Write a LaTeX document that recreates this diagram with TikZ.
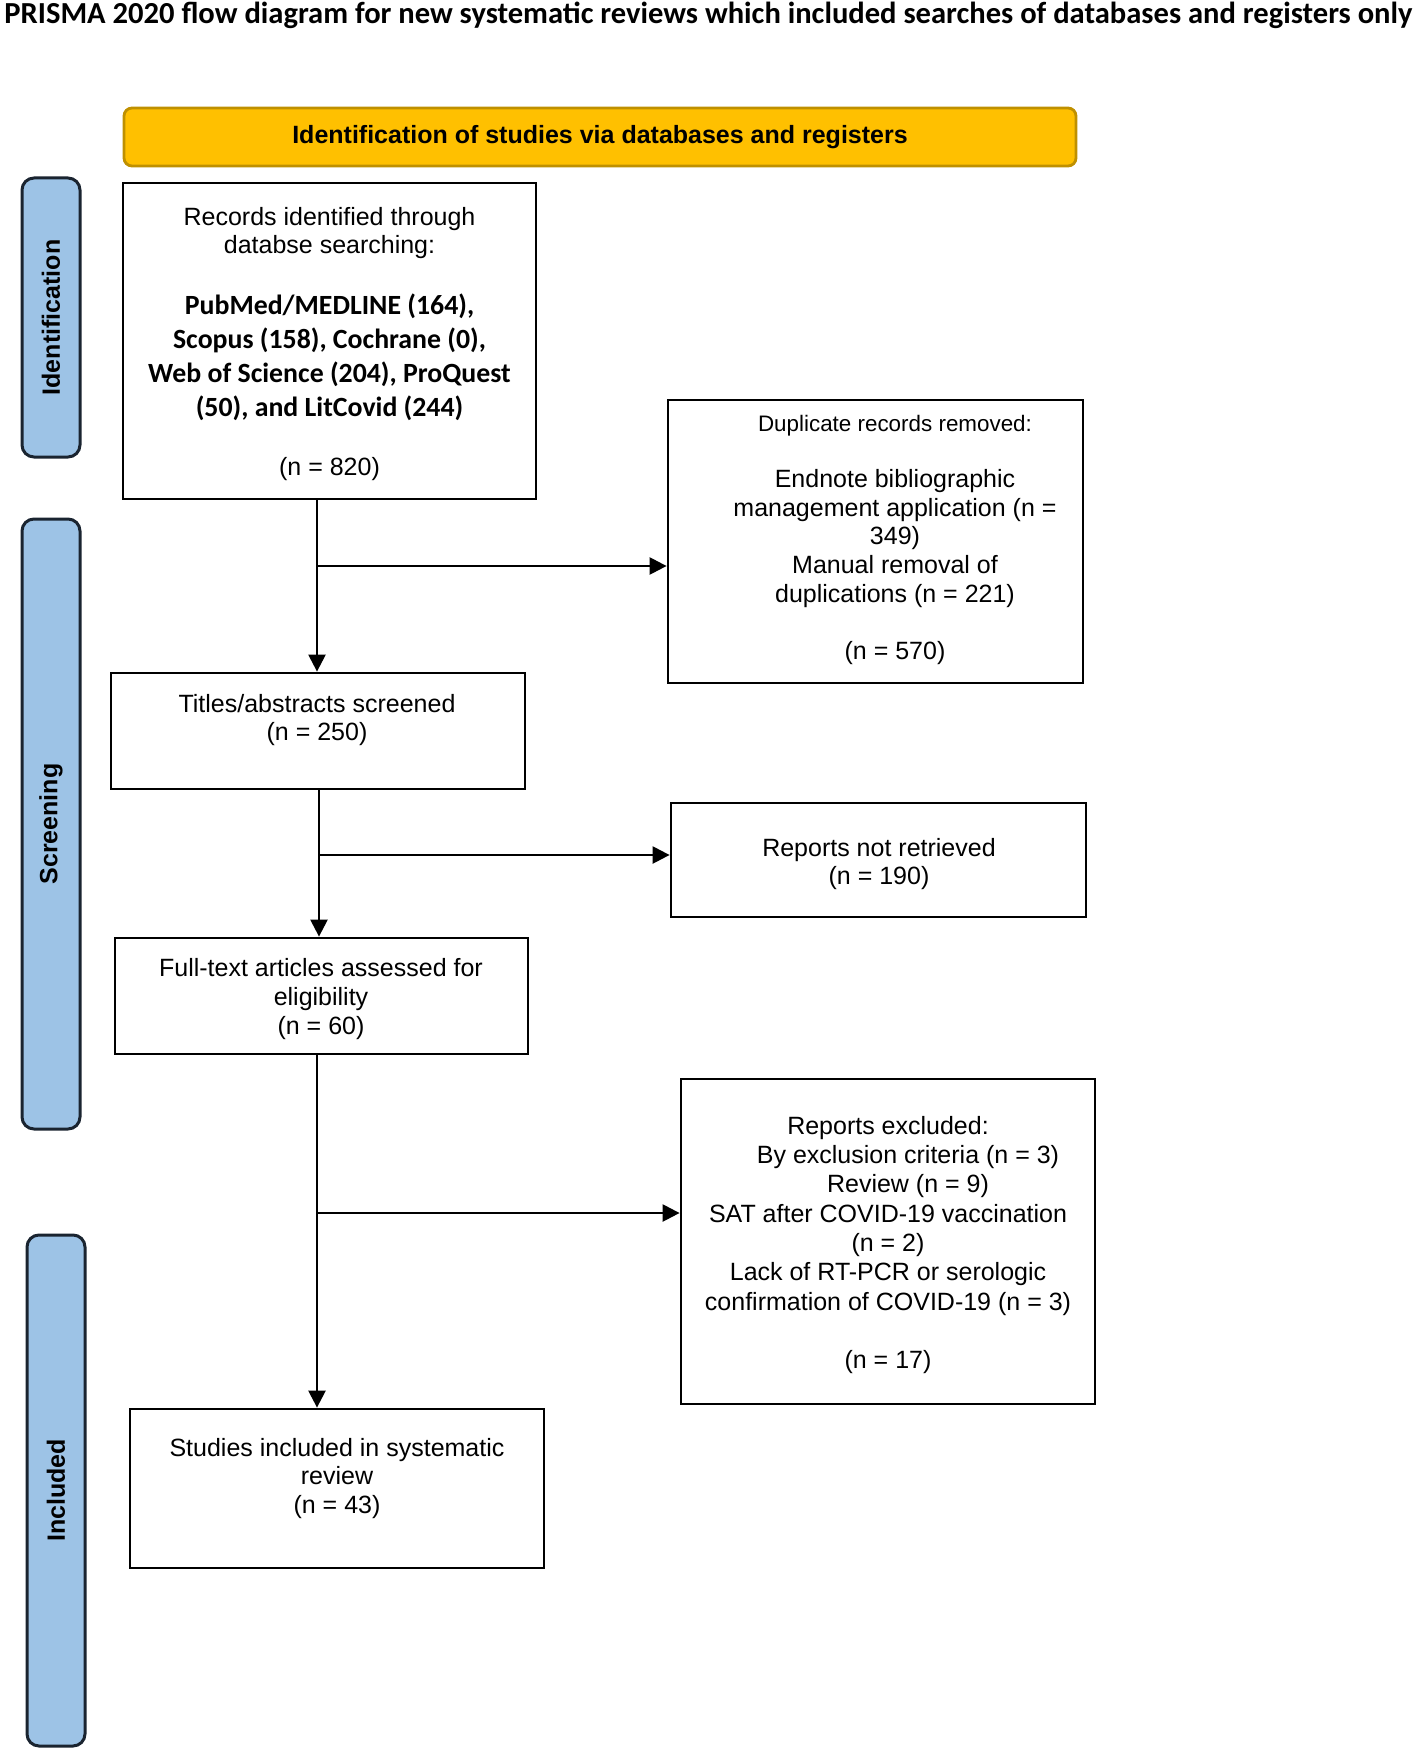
\documentclass[tikz,border=0pt]{standalone}
\usepackage{fontspec}
\setmainfont{Liberation Sans}
\newfontfamily\calibri{Carlito}
\usetikzlibrary{arrows.meta}
\definecolor{gold}{HTML}{FFC000}
\definecolor{goldedge}{HTML}{BF9000}
\definecolor{barblue}{HTML}{9DC3E6}
\definecolor{baredge}{HTML}{1A2430}
\begin{document}
\begin{tikzpicture}[x=0.5pt,y=-0.5pt,
  box/.style={draw=black, line width=1.4pt, fill=white, inner sep=0pt},
  bar/.style={draw=baredge, fill=barblue, line width=1.5pt, rounded corners=6pt, inner sep=0pt},
  txt/.style={font=\fontsize{12.5}{14.3}\selectfont, align=center, inner sep=0pt},
  bld/.style={font=\calibri\bfseries\fontsize{13.9}{17}\selectfont, align=center, inner sep=0pt},
  lbl/.style={font=\bfseries\fontsize{12.5}{14.3}\selectfont, rotate=90, inner sep=0pt},
  arr/.style={line width=1.2pt, -{Triangle[length=8.5pt,width=8.5pt]}},
  ln/.style={line width=1.2pt}]
\useasboundingbox (0,0) rectangle (1417,1749);

% title
\node[font=\calibri\bfseries, anchor=base, inner sep=0pt] (title) at (708.5,24)
  {\resizebox{704pt}{!}{PRISMA 2020 flow diagram for new systematic reviews which included searches of databases and registers only}};

% header
\node[draw=goldedge, fill=gold, line width=1.4pt, rounded corners=4pt, minimum width=476pt, minimum height=29pt, inner sep=0pt,
  font=\bfseries\fontsize{12.5}{14.3}\selectfont] (head) at (600,137) {Identification of studies via databases and registers};

% side bars
\node[bar, minimum width=29pt, minimum height=139.5pt] (barid) at (51,317.5) {};
\node[bar, minimum width=29pt, minimum height=305pt] (barsc) at (51,824) {};
\node[bar, minimum width=29pt, minimum height=255.5pt] (barin) at (56,1490.5) {};
\node[lbl] (lid) at (barid.center) {Identification};
\node[lbl] (lsc) at (barsc.center) {Screening};
\node[lbl] (lin) at (barin.center) {Included};

% boxes
\node[box, minimum width=206.5pt, minimum height=158pt] (rec) at (329.5,341) {};
\node[box, minimum width=207.5pt, minimum height=141.5pt] (dup) at (875.5,541.5) {};
\node[box, minimum width=207pt, minimum height=58pt] (tit) at (318,731) {};
\node[box, minimum width=207.5pt, minimum height=57pt] (ret) at (878.5,860) {};
\node[box, minimum width=206.5pt, minimum height=58pt] (ful) at (321.5,996) {};
\node[box, minimum width=207pt, minimum height=162.5pt] (exc) at (888,1241.5) {};
\node[box, minimum width=207pt, minimum height=79.5pt] (stu) at (337,1488.5) {};

% texts
\node[txt] (rec1) at (329.5,233) {Records identified through\\databse searching:};
\node[bld] (rec2) at (329.5,357) {PubMed/MEDLINE (164),\\Scopus (158), Cochrane (0),\\Web of Science (204), ProQuest\\(50), and LitCovid (244)};
\node[txt] (rec3) at (329.5,469) {(n = 820)};

\node[txt, font=\fontsize{11.2}{13}\selectfont] (dup1) at (895,426) {Duplicate records removed:};
\node[txt] (dupt) at (895,567) {Endnote bibliographic\\management application (n =\\349)\\Manual removal of\\duplications (n = 221)\\[14.3pt](n = 570)};

\node[txt] (titt) at (317,720) {Titles/abstracts screened\\(n = 250)};
\node[txt] (rett) at (879,864) {Reports not retrieved\\(n = 190)};
\node[txt] (fult) at (321,999) {Full-text articles assessed for\\eligibility\\(n = 60)};
\node[txt, font=\fontsize{12.5}{14.65}\selectfont] (exct) at (888,1245) {Reports excluded:\\\hspace*{20pt}By exclusion criteria (n = 3)\\\hspace*{20pt}Review (n = 9)\\SAT after COVID-19 vaccination\\(n = 2)\\Lack of RT-PCR or serologic\\confirmation of COVID-19 (n = 3)\\[14.65pt](n = 17)};
\node[txt] (stut) at (337,1478.5) {Studies included in systematic\\review\\(n = 43)};

% connectors
\coordinate (c1) at (317,566);
\coordinate (c2) at (319,855);
\coordinate (c3) at (317,1213);
\draw[arr] (c1 |- rec.south) -- (c1 |- tit.north);
\draw[arr] (c1) -- (c1 -| dup.west);
\draw[arr] (c2 |- tit.south) -- (c2 |- ful.north);
\draw[arr] (c2) -- (c2 -| ret.west);
\draw[arr] (c3 |- ful.south) -- (c3 |- stu.north);
\draw[arr] (c3) -- (c3 -| exc.west);
\end{tikzpicture}
\end{document}
